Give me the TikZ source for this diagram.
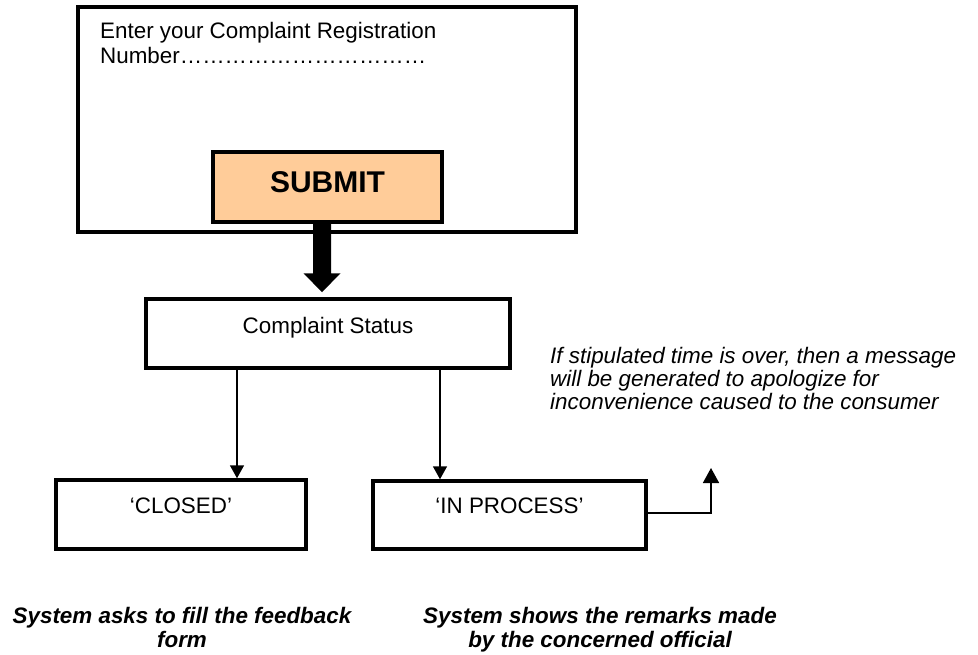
\documentclass[tikz,border=0pt]{standalone}
\usepackage{fontspec}
\setmainfont{Liberation Sans}
\usetikzlibrary{arrows.meta,calc}
\definecolor{submitfill}{HTML}{FFCC99}
\newcommand{\bodysize}{\fontsize{22.4bp}{25bp}\selectfont}
\newcommand{\fillmark}{…}

\begin{document}
\begin{tikzpicture}[x=1bp,y=-1bp,
  frame/.style={draw,line width=3.5bp,rectangle,inner sep=0pt},
  statebox/.style={frame,font=\bodysize},
  link/.style={line width=1.6bp,-{Triangle[length=13bp,width=14bp]}},
  note/.style={inner sep=0pt}]
\useasboundingbox (0,0) rectangle (978,655);

% entry form with its submit button
\node[frame,minimum width=498bp,minimum height=225bp] (form) at (327,119.5) {};
\node[note,anchor=base west,font=\bodysize] (prompt) at (100,39)
  {\begin{tabular}[t]{@{}l@{}}Enter your Complaint Registration\\
   Number\fillmark\fillmark\fillmark\fillmark\fillmark\fillmark\fillmark\fillmark\fillmark\fillmark\fillmark\end{tabular}};
\node[frame,fill=submitfill,minimum width=229bp,text height=41bp,text depth=29bp,
  font=\fontsize{30bp}{34bp}\selectfont\bfseries,anchor=base] (submit) at (327.5,193) {SUBMIT};

% status boxes
\node[statebox,minimum width=364bp,text height=34bp,text depth=35bp,anchor=base] (status) at (328,333) {Complaint Status};
\node[statebox,minimum width=250bp,text height=33bp,text depth=36bp,anchor=base] (closed) at (181,513) {‘CLOSED’};
\node[statebox,minimum width=273bp,text height=32bp,text depth=36bp,anchor=base] (inproc) at (509.5,513) {‘IN PROCESS’};

% explanatory notes
\node[note,anchor=base west,font=\fontsize{22.4bp}{23bp}\selectfont\itshape] (overdue) at (550,363)
  {\begin{tabular}[t]{@{}l@{}}If stipulated time is over, then a message\\will be generated to apologize for\\inconvenience caused to the consumer\end{tabular}};
\node[note,anchor=base,font=\fontsize{22.4bp}{24bp}\selectfont\bfseries\itshape] (feedback) at (182,623)
  {\begin{tabular}[t]{@{}c@{}}System asks to fill the feedback\\form\end{tabular}};
\node[note,anchor=base,font=\fontsize{22.4bp}{24bp}\selectfont\bfseries\itshape] (remarks) at (600,623)
  {\begin{tabular}[t]{@{}c@{}}System shows the remarks made\\by the concerned official\end{tabular}};

% heavy arrow from the button to the status box
\path (submit.south) ++(-5.5,0) coordinate (ta);
\coordinate (tb) at (ta |- status.north);
\fill let \p1=(ta), \p2=(tb) in
  (\x1-9bp,\y1) -- (\x1+9bp,\y1) -- (\x1+9bp,\y2+24bp) -- (\x1+18.5bp,\y2+24bp)
  -- (\x1,\y2+5bp) -- (\x1-18.5bp,\y2+24bp) -- (\x1-9bp,\y2+24bp) -- cycle;

% thin connectors
\coordinate (xl) at (237,0);
\coordinate (xr) at (440,0);
\coordinate (up) at (711,468);
\draw[link] (status.south -| xl) -- (closed.north -| xl);
\draw[link] (status.south -| xr) -- (inproc.north -| xr);
\draw[line width=1.6bp,-{Triangle[length=15bp,width=16bp]}] (inproc.base east) -| (up);
\end{tikzpicture}
\end{document}
